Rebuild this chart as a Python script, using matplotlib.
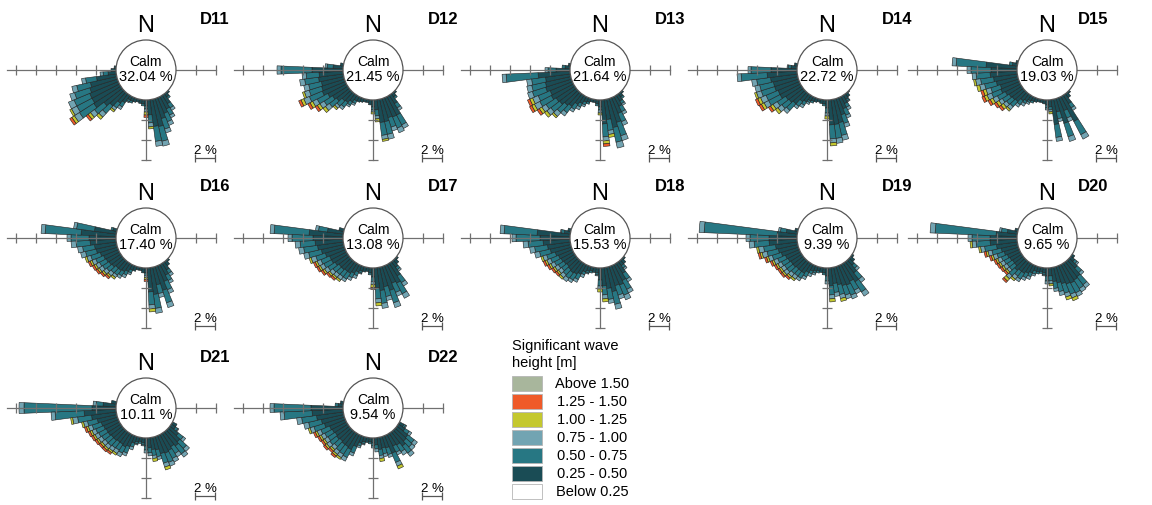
import matplotlib.pyplot as plt
from matplotlib.lines import Line2D
from matplotlib.patches import Circle, Rectangle
import numpy as np

plt.rcParams["font.family"] = ["Liberation Sans", "DejaVu Sans"]

W, H = 1152, 506

# direction bins (deg, clockwise from N), 5 deg wide
directions = [120, 125, 130, 135, 140, 145, 150, 155, 160, 165, 170, 175, 180,
              185, 190, 195, 200, 205, 210, 215, 220, 225, 230, 235, 240, 245,
              250, 255, 260, 265, 270, 275, 280, 285]

stations = ["D11", "D12", "D13", "D14", "D15", "D16",
            "D17", "D18", "D19", "D20", "D21", "D22"]
calm = [32.04, 21.45, 21.64, 22.72, 19.03, 17.40,
        13.08, 15.53, 9.39, 9.65, 10.11, 9.54]

classes = ["Above 1.50", "1.25 - 1.50", "1.00 - 1.25", "0.75 - 1.00",
           "0.50 - 0.75", "0.25 - 0.50", "Below 0.25"]
class_colors = ["#a8b69c", "#ef5a29", "#c4c82e", "#72a4b2",
                "#277783", "#1a4c55", "#ffffff"]

# per station: segment lengths (%) from the calm circle outward
# rows: 0.25-0.50, 0.50-0.75, 0.75-1.00, 1.00-1.25, 1.25-1.50
D11 = [
    [0, 0, 0, 0.2, 0.4, 1.0, 1.4, 1.7, 2.1, 2.8, 2.7, 1.5, 0.6, 0.4, 0.4, 0.3, 0.4, 0.4, 0.4, 0.9, 1.2, 1.9, 2.3, 3.2, 3.1, 3.1, 2.9, 2.7, 2.0, 0.8, 0.5, 0.2, 0, 0],
    [0, 0, 0, 0, 0.2, 0.5, 0.7, 0.9, 1.1, 1.5, 1.5, 0.8, 0.3, 0.2, 0, 0, 0, 0.2, 0.2, 0.5, 0.6, 1.0, 1.2, 1.7, 1.7, 1.7, 1.6, 1.4, 1.1, 0.5, 0, 0, 0, 0],
    [0, 0, 0, 0, 0, 0.3, 0.3, 0.4, 0.4, 0.5, 0.5, 0.4, 0.3, 0, 0, 0, 0, 0, 0.1, 0.3, 0.3, 0.5, 0.5, 0.6, 0.6, 0.6, 0.5, 0.5, 0.4, 0.3, 0, 0, 0, 0],
    [0, 0, 0, 0, 0, 0, 0, 0, 0, 0, 0, 0.2, 0.3, 0, 0, 0, 0, 0, 0, 0, 0.2, 0.3, 0.3, 0.3, 0.2, 0, 0, 0, 0, 0, 0, 0, 0, 0],
    [0, 0, 0, 0, 0, 0, 0, 0, 0, 0, 0, 0, 0.25, 0, 0, 0, 0, 0, 0, 0, 0, 0, 0.25, 0.25, 0, 0, 0, 0, 0, 0, 0, 0, 0, 0],
]
D12 = [
    [0, 0, 0, 0.2, 0.4, 1.0, 2.1, 2.1, 2.0, 2.3, 2.3, 1.0, 0.7, 0.5, 0.3, 0.3, 0.4, 0.5, 0.5, 0.8, 1.1, 1.2, 1.6, 1.8, 2.1, 2.5, 2.4, 2.3, 2.5, 2.4, 3.1, 1.0, 0.3, 0],
    [0, 0, 0, 0, 0.2, 0.5, 1.1, 1.2, 1.0, 1.3, 1.3, 0.6, 0.3, 0, 0, 0, 0, 0, 0.3, 0.4, 0.6, 0.7, 0.9, 1.0, 1.2, 1.4, 1.3, 1.3, 1.4, 1.3, 3.1, 0.6, 0, 0],
    [0, 0, 0, 0, 0, 0.3, 0.4, 0.5, 0.4, 0.5, 0.4, 0.3, 0.2, 0, 0, 0, 0, 0, 0.2, 0.2, 0.3, 0.3, 0.5, 0.5, 0.5, 0.6, 0.5, 0.5, 0.5, 0.4, 0.4, 0.2, 0, 0],
    [0, 0, 0, 0, 0, 0, 0, 0, 0, 0, 0.2, 0.3, 0.2, 0, 0, 0, 0, 0, 0, 0, 0, 0.2, 0.3, 0.3, 0.3, 0.3, 0.2, 0, 0, 0, 0, 0, 0, 0],
    [0, 0, 0, 0, 0, 0, 0, 0, 0, 0, 0, 0, 0, 0, 0, 0, 0, 0, 0, 0, 0, 0, 0, 0.25, 0.25, 0.25, 0, 0, 0, 0, 0, 0, 0, 0],
]
D13 = [
    [0, 0, 0, 0.2, 0.4, 0.7, 1.1, 1.7, 2.5, 2.9, 2.0, 2.4, 0.7, 0.4, 0.3, 0.3, 0.4, 0.5, 0.8, 1.1, 1.6, 1.8, 2.1, 2.2, 2.5, 2.4, 2.7, 2.6, 2.5, 3.2, 1.4, 0.5, 0.2, 0],
    [0, 0, 0, 0, 0.2, 0.3, 0.6, 0.9, 1.4, 1.5, 1.1, 1.3, 0.3, 0.2, 0, 0, 0.2, 0.3, 0.4, 0.6, 0.8, 1.0, 1.1, 1.2, 1.3, 1.3, 1.4, 1.4, 1.4, 3.2, 0.8, 0.3, 0, 0],
    [0, 0, 0, 0, 0, 0.2, 0.3, 0.4, 0.5, 0.6, 0.4, 0.4, 0.3, 0, 0, 0, 0, 0.2, 0.3, 0.3, 0.4, 0.5, 0.5, 0.5, 0.6, 0.6, 0.5, 0.5, 0.5, 0.4, 0.3, 0, 0, 0],
    [0, 0, 0, 0, 0, 0, 0, 0, 0, 0, 0.3, 0.3, 0.2, 0, 0, 0, 0, 0, 0, 0, 0, 0.2, 0.3, 0.3, 0.3, 0.3, 0, 0, 0, 0, 0, 0, 0, 0],
    [0, 0, 0, 0, 0, 0, 0, 0, 0, 0, 0, 0.25, 0, 0, 0, 0, 0, 0, 0, 0, 0, 0, 0, 0.25, 0.25, 0.25, 0, 0, 0, 0, 0, 0, 0, 0],
]
D14 = [
    [0, 0, 0, 0.1, 0.4, 0.5, 0.8, 1.2, 1.7, 2.4, 2.5, 2.5, 0.8, 0.4, 0.4, 0.3, 0.4, 0.4, 0.5, 0.8, 1.0, 1.6, 1.8, 1.9, 2.3, 2.3, 2.5, 2.5, 2.7, 3.0, 2.6, 0.6, 0.3, 0],
    [0, 0, 0, 0, 0, 0.2, 0.4, 0.7, 0.9, 1.3, 1.4, 1.4, 0.5, 0.2, 0, 0, 0, 0.2, 0.2, 0.4, 0.6, 0.9, 0.9, 1.0, 1.3, 1.3, 1.4, 1.4, 1.4, 2.6, 2.0, 0.3, 0, 0],
    [0, 0, 0, 0, 0, 0.1, 0.3, 0.3, 0.4, 0.5, 0.5, 0.4, 0.3, 0, 0, 0, 0, 0, 0.2, 0.3, 0.3, 0.4, 0.5, 0.5, 0.5, 0.6, 0.5, 0.5, 0.5, 0.4, 0.3, 0.1, 0, 0],
    [0, 0, 0, 0, 0, 0, 0, 0, 0, 0, 0, 0.3, 0.3, 0, 0, 0, 0, 0, 0, 0, 0, 0, 0.3, 0.3, 0.3, 0.3, 0.2, 0, 0, 0, 0, 0, 0, 0],
    [0, 0, 0, 0, 0, 0, 0, 0, 0, 0, 0, 0, 0, 0, 0, 0, 0, 0, 0, 0, 0, 0, 0, 0.25, 0.25, 0.25, 0, 0, 0, 0, 0, 0, 0, 0],
]
D15 = [
    [0, 0, 0, 0.2, 0.5, 1.0, 2.8, 1.4, 2.6, 1.3, 2.5, 0.7, 0.5, 0.4, 0.3, 0.3, 0.4, 0.4, 0.5, 0.7, 0.9, 1.3, 1.4, 1.5, 1.7, 2.0, 1.9, 2.2, 2.4, 2.7, 2.6, 3.1, 0.5, 0.2],
    [0, 0, 0, 0, 0, 0.5, 1.5, 0.8, 1.4, 0.7, 1.3, 0.3, 0.3, 0, 0, 0, 0, 0.2, 0.2, 0.3, 0.5, 0.7, 0.7, 0.8, 0.9, 1.0, 1.0, 1.2, 1.3, 1.4, 2.0, 3.0, 0.3, 0],
    [0, 0, 0, 0, 0, 0.3, 0.5, 0.4, 0.5, 0.3, 0.4, 0.2, 0.2, 0, 0, 0, 0, 0, 0.2, 0.3, 0.3, 0.4, 0.4, 0.4, 0.5, 0.5, 0.5, 0.5, 0.5, 0.4, 0.4, 0.4, 0, 0],
    [0, 0, 0, 0, 0, 0, 0, 0, 0, 0, 0, 0.2, 0, 0, 0, 0, 0, 0, 0, 0, 0, 0.2, 0.3, 0.3, 0.3, 0.3, 0.3, 0.3, 0.2, 0, 0, 0, 0, 0],
    [0, 0, 0, 0, 0, 0, 0, 0, 0, 0, 0, 0, 0, 0, 0, 0, 0, 0, 0, 0, 0, 0, 0.25, 0.25, 0.25, 0.25, 0.25, 0, 0, 0, 0, 0, 0, 0],
]
D16 = [
    [0, 0, 0, 0.2, 0.5, 0.8, 1.2, 1.7, 2.5, 1.8, 2.7, 2.4, 0.5, 0.5, 0.3, 0.3, 0.5, 0.5, 0.8, 1.0, 1.1, 1.1, 1.3, 1.4, 1.5, 1.6, 1.8, 2.1, 2.2, 2.6, 2.7, 3.5, 2.2, 0.4],
    [0, 0, 0, 0, 0, 0.4, 0.6, 0.9, 1.3, 0.9, 1.4, 1.3, 0.25, 0, 0, 0, 0, 0.3, 0.4, 0.5, 0.6, 0.65, 0.65, 0.75, 0.75, 0.85, 1.0, 1.1, 1.2, 1.4, 1.8, 3.6, 1.8, 0.2],
    [0, 0, 0, 0, 0, 0.3, 0.3, 0.4, 0.5, 0.4, 0.5, 0.4, 0.2, 0, 0, 0, 0, 0.2, 0.3, 0.3, 0.3, 0.4, 0.4, 0.4, 0.4, 0.4, 0.4, 0.5, 0.5, 0.5, 0.4, 0.4, 0.3, 0],
    [0, 0, 0, 0, 0, 0, 0, 0, 0, 0, 0, 0.3, 0.2, 0, 0, 0, 0, 0, 0, 0, 0.2, 0.2, 0.2, 0.2, 0.2, 0.2, 0.2, 0, 0, 0, 0, 0, 0, 0],
    [0, 0, 0, 0, 0, 0, 0, 0, 0, 0, 0, 0, 0.2, 0, 0, 0, 0, 0, 0, 0, 0, 0.2, 0.2, 0.2, 0.2, 0.2, 0, 0, 0, 0, 0, 0, 0, 0],
]
D17 = [
    [0, 0, 0.2, 0.5, 0.7, 1.5, 2.1, 1.9, 2.5, 2.0, 2.3, 2.0, 0.9, 0.5, 0.4, 0.5, 0.5, 0.7, 1.0, 1.2, 1.2, 1.3, 1.3, 1.5, 1.7, 1.7, 2.0, 2.3, 2.6, 2.8, 3.0, 3.4, 1.6, 0.5],
    [0, 0, 0, 0, 0.3, 0.8, 1.2, 1.0, 1.3, 1.0, 1.3, 1.1, 0.45, 0.2, 0, 0, 0.2, 0.4, 0.5, 0.7, 0.7, 0.65, 0.75, 0.85, 0.85, 0.95, 1.0, 1.3, 1.4, 1.5, 2.1, 3.5, 0.9, 0],
    [0, 0, 0, 0, 0.2, 0.4, 0.5, 0.4, 0.5, 0.4, 0.5, 0.4, 0.3, 0, 0, 0, 0.1, 0.3, 0.3, 0.3, 0.4, 0.4, 0.4, 0.4, 0.4, 0.4, 0.5, 0.5, 0.5, 0.5, 0.4, 0.4, 0.3, 0],
    [0, 0, 0, 0, 0, 0, 0, 0, 0, 0, 0, 0.3, 0.3, 0, 0, 0, 0, 0, 0, 0, 0.2, 0.2, 0.2, 0.2, 0.2, 0.2, 0.2, 0, 0, 0, 0, 0, 0, 0],
    [0, 0, 0, 0, 0, 0, 0, 0, 0, 0, 0, 0, 0.2, 0, 0, 0, 0, 0, 0, 0, 0, 0.2, 0.2, 0.2, 0.2, 0.2, 0, 0, 0, 0, 0, 0, 0, 0],
]
D18 = [
    [0, 0, 0.2, 0.5, 0.5, 1.2, 1.8, 2.1, 2.0, 2.5, 2.1, 1.8, 1.2, 0.5, 0.5, 0.4, 0.5, 0.7, 1.1, 1.3, 1.4, 1.3, 1.2, 1.3, 1.4, 1.5, 1.7, 2.1, 2.3, 2.7, 3.0, 3.3, 0.6, 0.3],
    [0, 0, 0, 0, 0.3, 0.7, 1.0, 1.1, 1.0, 1.3, 1.1, 0.9, 0.6, 0.2, 0, 0.2, 0.2, 0.3, 0.6, 0.7, 0.7, 0.7, 0.65, 0.65, 0.75, 0.85, 0.9, 1.1, 1.3, 1.5, 2.4, 3.3, 0.3, 0],
    [0, 0, 0, 0, 0.2, 0.3, 0.4, 0.5, 0.4, 0.5, 0.4, 0.4, 0.3, 0.1, 0, 0, 0.1, 0.3, 0.3, 0.3, 0.4, 0.4, 0.4, 0.4, 0.4, 0.4, 0.4, 0.5, 0.5, 0.5, 0.4, 0.4, 0.1, 0],
    [0, 0, 0, 0, 0, 0, 0, 0, 0, 0, 0, 0.3, 0.3, 0, 0, 0, 0, 0, 0, 0, 0, 0.2, 0.2, 0.2, 0.2, 0.2, 0.2, 0, 0, 0, 0, 0, 0, 0],
    [0, 0, 0, 0, 0, 0, 0, 0, 0, 0, 0, 0, 0, 0, 0, 0, 0, 0, 0, 0, 0, 0, 0.2, 0.2, 0.2, 0.2, 0, 0, 0, 0, 0, 0, 0, 0],
]
D19 = [
    [0, 0.2, 0.5, 0.7, 1.4, 2.2, 1.9, 2.1, 2.0, 1.8, 1.6, 1.8, 0.8, 0.5, 0.5, 0.4, 0.5, 0.6, 0.9, 1.2, 1.2, 1.2, 1.3, 1.3, 1.4, 1.5, 1.8, 2.0, 2.2, 2.8, 2.8, 2.0, 1.1, 0.3],
    [0, 0, 0, 0.4, 0.8, 1.2, 1.0, 1.1, 1.0, 1.0, 0.9, 0.9, 0.5, 0.2, 0, 0.2, 0.2, 0.3, 0.5, 0.6, 0.6, 0.65, 0.75, 0.75, 0.75, 0.85, 0.95, 1.15, 1.2, 1.5, 1.9, 7.3, 0.6, 0],
    [0, 0, 0, 0.3, 0.4, 0.5, 0.4, 0.4, 0.4, 0.4, 0.4, 0.4, 0.3, 0, 0, 0, 0.2, 0.3, 0.3, 0.3, 0.4, 0.4, 0.4, 0.4, 0.4, 0.4, 0.4, 0.5, 0.5, 0.5, 0.4, 0.5, 0.2, 0],
    [0, 0, 0, 0, 0, 0, 0, 0, 0, 0.3, 0, 0.3, 0, 0, 0, 0, 0, 0, 0, 0, 0.2, 0.2, 0.2, 0.2, 0.2, 0.2, 0.2, 0.2, 0.2, 0, 0, 0, 0, 0],
    [0, 0, 0, 0, 0, 0, 0, 0, 0, 0, 0, 0, 0, 0, 0, 0, 0, 0, 0, 0, 0, 0.2, 0.2, 0.2, 0.2, 0.2, 0.2, 0.2, 0, 0, 0, 0, 0, 0],
]
D20 = [
    [0, 0.3, 0.5, 1.1, 1.9, 2.0, 2.1, 2.0, 1.8, 1.6, 1.4, 0.8, 0.8, 0.5, 0.4, 0.5, 0.5, 0.8, 1.0, 1.2, 1.2, 1.4, 1.1, 1.1, 1.2, 1.3, 1.5, 1.7, 2.1, 2.7, 2.7, 2.1, 1.0, 0.3],
    [0, 0, 0.3, 0.6, 1.0, 1.0, 1.1, 1.1, 1.0, 0.9, 0.7, 0.5, 0.5, 0.2, 0.2, 0.2, 0.3, 0.4, 0.5, 0.7, 0.6, 0.75, 0.65, 0.65, 0.65, 0.65, 0.75, 0.95, 1.2, 1.4, 1.8, 6.1, 0.6, 0],
    [0, 0, 0.2, 0.3, 0.4, 0.4, 0.4, 0.4, 0.4, 0.4, 0.3, 0.3, 0.3, 0.1, 0, 0, 0.2, 0.3, 0.3, 0.3, 0.4, 0.4, 0.3, 0.4, 0.4, 0.4, 0.4, 0.4, 0.4, 0.4, 0.4, 0.5, 0.2, 0],
    [0, 0, 0, 0, 0, 0, 0, 0.3, 0.3, 0, 0, 0.2, 0, 0, 0, 0, 0, 0, 0, 0, 0.2, 0.3, 0.2, 0.2, 0.2, 0.2, 0.2, 0.2, 0.2, 0.2, 0, 0, 0, 0],
    [0, 0, 0, 0, 0, 0, 0, 0, 0, 0, 0, 0, 0, 0, 0, 0, 0, 0, 0, 0, 0, 0.2, 0.2, 0.2, 0.2, 0.2, 0.2, 0.2, 0, 0, 0, 0, 0, 0],
]
D21 = [
    [0.5, 0.5, 1.1, 1.6, 1.8, 1.6, 1.8, 1.9, 1.8, 1.3, 1.2, 1.0, 0.8, 0.5, 0.4, 0.5, 0.7, 1.2, 1.4, 1.3, 1.3, 1.4, 1.4, 1.5, 1.5, 1.6, 1.7, 2.0, 2.5, 3.2, 2.4, 1.3, 0.5, 0],
    [0, 0.3, 0.6, 0.9, 1.0, 0.8, 0.9, 1.0, 1.0, 0.7, 0.6, 0.5, 0.4, 0.2, 0.2, 0.2, 0.4, 0.7, 0.7, 0.7, 0.75, 0.75, 0.75, 0.75, 0.85, 0.85, 0.95, 1.0, 1.4, 2.9, 6.8, 0.7, 0, 0],
    [0, 0.1, 0.3, 0.4, 0.4, 0.4, 0.4, 0.4, 0.4, 0.3, 0.3, 0.3, 0.3, 0.1, 0, 0.1, 0.3, 0.3, 0.4, 0.4, 0.4, 0.4, 0.4, 0.4, 0.4, 0.4, 0.4, 0.4, 0.5, 0.4, 0.5, 0.3, 0, 0],
    [0, 0, 0, 0, 0, 0, 0, 0, 0.3, 0, 0.3, 0, 0, 0, 0, 0, 0, 0, 0, 0.2, 0.2, 0.2, 0.2, 0.2, 0.2, 0.2, 0.2, 0.2, 0.2, 0, 0, 0, 0, 0],
    [0, 0, 0, 0, 0, 0, 0, 0, 0, 0, 0, 0, 0, 0, 0, 0, 0, 0, 0, 0, 0.2, 0.2, 0.2, 0.2, 0.2, 0.2, 0.2, 0, 0, 0, 0, 0, 0, 0],
]
D22 = [
    [0.5, 0.8, 1.4, 1.5, 1.8, 1.4, 1.3, 1.9, 1.2, 1.1, 1.2, 0.7, 0.5, 0.4, 0.5, 0.5, 0.7, 1.2, 1.7, 1.6, 1.6, 1.5, 1.6, 1.5, 1.6, 1.7, 2.1, 2.3, 2.7, 3.1, 3.2, 0.5, 0.3, 0],
    [0.2, 0.5, 0.8, 0.8, 0.9, 0.8, 0.7, 1.0, 0.7, 0.6, 0.6, 0.4, 0.3, 0.2, 0, 0.2, 0.3, 0.7, 0.9, 0.9, 0.85, 0.75, 0.85, 0.85, 0.85, 0.95, 1.1, 1.3, 1.5, 2.8, 3.7, 0.3, 0, 0],
    [0.1, 0.3, 0.4, 0.4, 0.4, 0.4, 0.3, 0.4, 0.3, 0.3, 0.3, 0.3, 0.2, 0, 0, 0.1, 0.2, 0.3, 0.4, 0.4, 0.4, 0.4, 0.4, 0.4, 0.4, 0.4, 0.4, 0.5, 0.5, 0.4, 0.4, 0, 0, 0],
    [0, 0, 0, 0, 0, 0, 0, 0.3, 0, 0, 0.3, 0, 0, 0, 0, 0, 0, 0, 0, 0.2, 0.2, 0.2, 0.2, 0.2, 0.2, 0.2, 0.2, 0, 0, 0, 0, 0, 0, 0],
    [0, 0, 0, 0, 0, 0, 0, 0, 0, 0, 0, 0, 0, 0, 0, 0, 0, 0, 0, 0, 0.2, 0.2, 0.2, 0.2, 0.2, 0.2, 0, 0, 0, 0, 0, 0, 0, 0],
]
panels = [D11, D12, D13, D14, D15, D16, D17, D18, D19, D20, D21, D22]

# layout (pixels)
col_x = [146, 373, 600, 827, 1047]
row_y = [71, 239, 409]
title_dx = [54, 55, 55, 55, 31]
CALM_R = 3.0   # radius of calm circle, in % units
RMAX = 14.0
PX = 10        # pixels per %
AX_GRAY = "#707070"


def fx(x):
    return x / W


def fy(y):
    return 1 - y / H


def seg_line(x0, y0, x1, y1, color, lw):
    fig.add_artist(Line2D([fx(x0), fx(x1)], [fy(y0), fy(y1)], color=color,
                          lw=lw, solid_capstyle="butt"))


fig = plt.figure(figsize=(W / 100, H / 100), dpi=100)
fig.patch.set_facecolor("white")

theta = np.deg2rad(directions)
bar_w = np.deg2rad(5)
stack_colors = [class_colors[5], class_colors[4], class_colors[3],
                class_colors[2], class_colors[1]]

for k, (name, pct, segs) in enumerate(zip(stations, calm, panels)):
    cx, cy = col_x[k % 5], row_y[k // 5]
    R = RMAX * PX
    ax = fig.add_axes([fx(cx - R), fy(cy + R), 2 * R / W, 2 * R / H],
                      projection="polar")
    ax.set_theta_zero_location("N")
    ax.set_theta_direction(-1)
    ax.set_ylim(0, RMAX)
    ax.axis("off")

    base = np.full(len(directions), CALM_R)
    for seg, col in zip(segs, stack_colors):
        seg = np.asarray(seg, dtype=float)
        assert len(seg) == len(directions), name
        m = seg > 0
        ax.bar(theta[m], seg[m], width=bar_w, bottom=base[m], color=col,
               edgecolor="#202020", linewidth=0.4, zorder=2)
        base = base + seg

    # axis cross (west, east, south arms)
    for ang, rend in [(1.5 * np.pi, 13.9), (0.5 * np.pi, 7.0), (np.pi, 9.0)]:
        ax.plot([ang, ang], [CALM_R, rend], color=AX_GRAY, lw=0.9, zorder=3)

    ax.add_patch(Circle((0.5, 0.5), CALM_R / (2 * RMAX), transform=ax.transAxes,
                        facecolor="white", edgecolor="#555555", lw=0.9,
                        zorder=4))

    # 2 % ticks on the arms
    for r in [5, 7, 9, 11, 13]:
        seg_line(cx - r * PX, cy - 5, cx - r * PX, cy + 5, AX_GRAY, 0.9)
    for r in [5, 7]:
        seg_line(cx + r * PX, cy - 5, cx + r * PX, cy + 5, AX_GRAY, 0.9)
    for r in [5, 7, 9]:
        seg_line(cx - 5, cy + r * PX, cx + 5, cy + r * PX, AX_GRAY, 0.9)

    fig.text(fx(cx), fy(cy - 9), "Calm", ha="center", va="center", fontsize=10)
    fig.text(fx(cx), fy(cy + 6), f"{pct:.2f} %", ha="center", va="center",
             fontsize=10.5)
    fig.text(fx(cx), fy(cy - 45), "N", ha="center", va="center", fontsize=17)
    fig.text(fx(cx + title_dx[k % 5]), fy(cy - 52), name, ha="left",
             va="center", fontsize=12, fontweight="bold")

    # 2 % scale bar
    fig.text(fx(cx + 59), fy(cy + 80), "2 %", ha="center", va="center",
             fontsize=9.5)
    seg_line(cx + 49, cy + 88, cx + 69, cy + 88, "#555555", 0.9)
    for xx in (cx + 49, cx + 69):
        seg_line(xx, cy + 84, xx, cy + 92, "#555555", 0.9)

# legend
fig.text(fx(512), fy(350), "Significant wave", ha="left", va="baseline",
         fontsize=10.5)
fig.text(fx(512), fy(367), "height [m]", ha="left", va="baseline",
         fontsize=10.5)
for i, (lab, col) in enumerate(zip(classes, class_colors)):
    top = 377 + 18 * i
    fig.add_artist(Rectangle((fx(512), fy(top + 15)), 30 / W, 15 / H,
                             transform=fig.transFigure, facecolor=col,
                             edgecolor="#b5b5b5", lw=0.6))
    fig.text(fx(592), fy(top + 7.5), lab, ha="center", va="center",
             fontsize=10.5)

fig.savefig("out.png", dpi=100)
